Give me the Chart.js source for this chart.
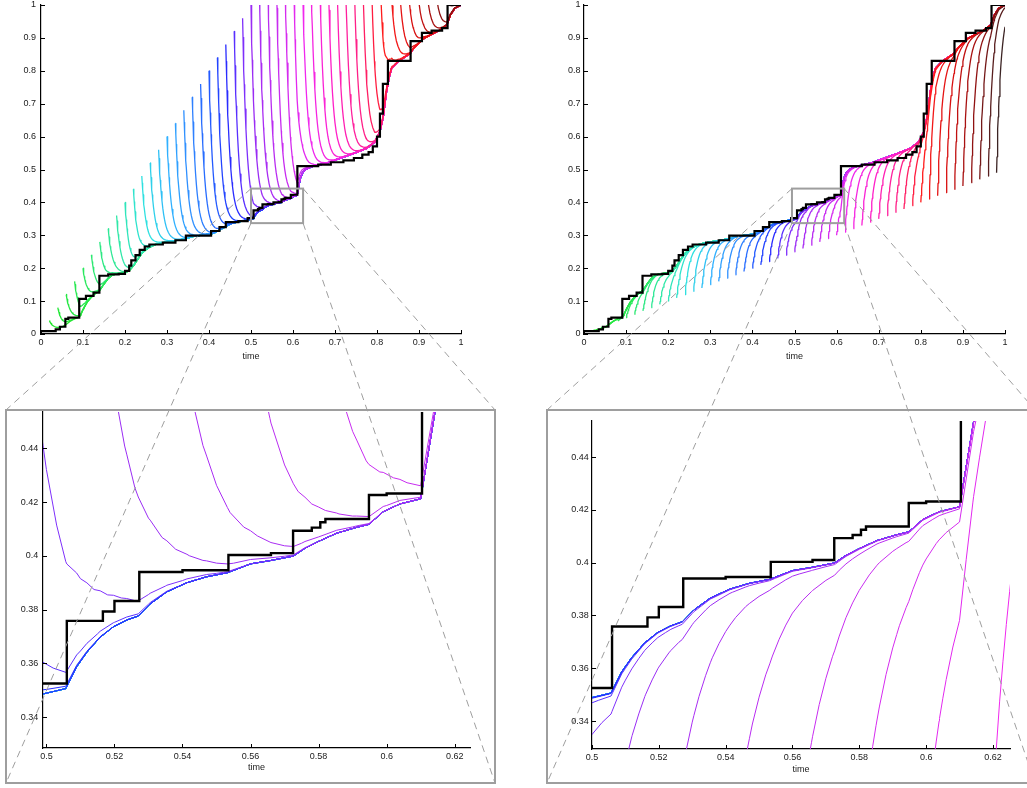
<!DOCTYPE html>
<html>
<head>
<meta charset="utf-8">
<title>Forward and backward filtering curves</title>
<script src="https://cdn.jsdelivr.net/npm/chart.js@4.4.1/dist/chart.umd.min.js"></script>
<style>
  html, body { margin:0; padding:0; background:#fff; width:1027px; height:788px; overflow:hidden; }
  canvas { position:absolute; }
</style>
</head>
<body>
<canvas id="cTL" width="490" height="372" style="left:0px;top:0px"></canvas>
<canvas id="cTR" width="490" height="372" style="left:543px;top:0px"></canvas>
<canvas id="cBL" width="489" height="373" style="left:6px;top:410px"></canvas>
<canvas id="cBR" width="488" height="373" style="left:547px;top:410px"></canvas>
<canvas id="ov" width="1040" height="788" style="left:0px;top:0px;pointer-events:none"></canvas>
<script>
// ---------------- data ----------------
// start times of the coloured curves
const CURVE_T = [0.02,0.04,0.06,0.08,0.10,0.12,0.14,0.16,0.18,0.20,0.22,0.24,0.26,0.28,0.30,0.32,0.34,0.36,0.38,0.40,
  0.42,0.44,0.46,0.48,0.50,0.52,0.54,0.56,0.58,0.60,0.62,0.64,0.66,0.68,0.70,0.72,0.74,0.76,0.78,0.80,
  0.82,0.84,0.86,0.88,0.90,0.92,0.94,0.96,0.98];
// left panel: value at which each curve starts (above the limit curve)
const FWD_START = [0.04,0.08,0.12,0.16,0.20,0.24,0.28,0.32,0.36,0.40,0.44,0.48,0.52,0.56,0.60,0.64,0.68,0.72,0.76,0.80,
  0.84,0.88,0.92,0.96,1.00,1.04,1.08,1.12,1.16,1.20,1.24,1.28,1.32,1.36,1.40,1.44,1.48,1.52,1.56,1.60,
  1.64,1.68,1.72,1.76,1.80,1.84,1.88,1.92,1.96];
// right panel: value at which each curve starts (below the limit curve)
const BWD_START = [0.01,0.02,0.03,0.04,0.05,0.06,0.07,0.08,0.09,0.10,0.11,0.12,0.13,0.14,0.15,0.16,0.17,0.18,0.19,0.20,
  0.21,0.22,0.23,0.24,0.25,0.26,0.27,0.28,0.29,0.30,0.31,0.32,0.33,0.34,0.35,0.36,0.37,0.38,0.39,0.40,
  0.41,0.42,0.43,0.44,0.45,0.46,0.47,0.48,0.49];
// black step function
const STEP_T = [0,0.035,0.045,0.058,0.065,0.091,0.107,0.125,0.139,0.160,0.185,0.200,0.210,0.215,0.225,0.235,0.247,0.258,0.290,0.320,
  0.345,0.405,0.425,0.440,0.470,0.492,0.5060,0.5166,0.5200,0.5273,0.5400,0.5535,0.5660,0.5725,0.5780,0.5805,0.5820,0.5948,0.6000,0.6104,
  0.660,0.690,0.720,0.745,0.765,0.780,0.790,0.800,0.807,0.814,0.826,0.880,0.907,0.930,0.955,0.968,1.000];
const STEP_V = [0.009,0.014,0.022,0.046,0.050,0.107,0.116,0.126,0.177,0.181,0.183,0.192,0.208,0.224,0.240,0.256,0.266,0.272,0.278,0.285,
  0.299,0.313,0.325,0.340,0.343,0.3525,0.3758,0.3793,0.3832,0.3940,0.3946,0.4003,0.4010,0.4093,0.4105,0.4125,0.4137,0.4226,0.4232,0.5100,
  0.515,0.522,0.528,0.535,0.545,0.553,0.570,0.600,0.670,0.760,0.830,0.890,0.915,0.922,0.930,1.000,1.000];
// limit curve onto which the coloured curves settle
const ENV_T = [0.000,0.020,0.040,0.050,0.060,0.070,0.080,0.090,0.094,0.100,0.110,0.120,0.130,0.140,0.150,0.160,0.170,0.180,0.200,0.210,
  0.220,0.230,0.240,0.250,0.260,0.270,0.280,0.300,0.320,0.345,0.360,0.380,0.405,0.415,0.425,0.435,0.445,0.455,0.470,0.485,
  0.4990,0.5057,0.5089,0.5119,0.5158,0.5197,0.5236,0.5270,0.5305,0.5354,0.5413,0.5471,0.5532,0.5600,0.5657,0.5726,0.5760,0.5799,0.5853,0.5912,
  0.5948,0.5990,0.6039,0.6100,0.6142,0.6180,0.6220,0.6260,0.6300,0.6450,0.6800,0.7100,0.7450,0.7750,0.7950,0.8070,0.8150,0.8230,0.8300,0.8350,
  0.8500,0.8790,0.8870,0.9110,0.9500,0.9660,0.9750,0.9850,1.0000];
const ENV_V = [0.008,0.011,0.016,0.020,0.029,0.039,0.046,0.051,0.056,0.074,0.097,0.112,0.124,0.133,0.152,0.169,0.179,0.183,0.186,0.193,
  0.207,0.227,0.245,0.257,0.265,0.271,0.275,0.280,0.284,0.290,0.296,0.300,0.304,0.309,0.316,0.323,0.331,0.336,0.341,0.345,
  0.3486,0.3506,0.3587,0.3641,0.3697,0.3736,0.3761,0.3776,0.3821,0.3866,0.3900,0.3922,0.3937,0.3970,0.3982,0.3999,0.4028,0.4053,0.4084,0.4106,
  0.4117,0.4164,0.4193,0.4212,0.4534,0.4750,0.4880,0.4950,0.5000,0.5090,0.5190,0.5330,0.5490,0.5640,0.5840,0.6150,0.6610,0.7400,0.7850,0.8080,
  0.8280,0.8530,0.8680,0.8980,0.9240,0.9390,0.9700,0.9900,1.0000];
// remaining share of the initial gap after a given time (measured on the zoomed panels)
const DECAY_DT   = [0,0.001,0.002,0.003,0.004,0.005,0.006,0.008,0.010,0.012,0.014,0.016,0.018,0.020,0.023,0.026,0.030,0.034,0.038,0.042,0.046,0.050,0.055,0.060,0.070,0.080];
const DECAY_FRAC = [1,0.905,0.819,0.741,0.670,0.607,0.549,0.449,0.368,0.301,0.247,0.202,0.165,0.135,0.100,0.074,0.050,0.033,0.022,0.015,0.010,0.0067,0.0041,0.0025,0.0009,0];

const TOP_TICKS  = [0,0.1,0.2,0.3,0.4,0.5,0.6,0.7,0.8,0.9,1];
const TOP_LABELS = ['0','0.1','0.2','0.3','0.4','0.5','0.6','0.7','0.8','0.9','1'];
const ZOOM_X_TICKS  = [0.5,0.52,0.54,0.56,0.58,0.6,0.62];
const ZOOM_X_LABELS = ['0.5','0.52','0.54','0.56','0.58','0.6','0.62'];
const ZOOM_Y_TICKS  = [0.34,0.36,0.38,0.4,0.42,0.44];
const ZOOM_Y_LABELS = ['0.34','0.36','0.38','0.4','0.42','0.44'];

// axis ranges
const ZOOM_L_X = [0.499, 0.6245], ZOOM_L_Y = [0.3285, 0.4535];
const ZOOM_R_X = [0.500, 0.6251], ZOOM_R_Y = [0.3294, 0.4537];
// zoom rectangles drawn on the top panels
const RECT_L_X = [0.500, 0.624], RECT_R_X = [0.494, 0.618], RECT_Y = [0.337, 0.442];

// ---------------- colour map (style) ----------------
const CMAP_T = [0.00,0.10,0.18,0.24,0.30,0.36,0.41,0.44,0.47,0.50,0.56,0.62,0.68,0.74,0.80,0.86,0.92,0.98,1.00];
const CMAP_C = ['#1ee61e','#2ae85e','#30e8a8','#2ee0e0','#30b0ff','#2e80ff','#2050ff','#2a2cff','#7030ff','#9a2cf4',
  '#c82cf0','#f028ee','#ff20c8','#ff2088','#ff1c1c','#d81010','#901212','#3c2424','#302020'];
function hex(c){ return [parseInt(c.slice(1,3),16), parseInt(c.slice(3,5),16), parseInt(c.slice(5,7),16)]; }
function cmap(t){
  let i = 1; while (i < CMAP_T.length - 1 && CMAP_T[i] < t) i++;
  const f = Math.max(0, Math.min(1, (t - CMAP_T[i-1]) / (CMAP_T[i] - CMAP_T[i-1])));
  const a = hex(CMAP_C[i-1]), b = hex(CMAP_C[i]);
  return 'rgb(' + a.map((v, j) => Math.round(v + f * (b[j] - v))).join(',') + ')';
}

// ---------------- build series from the arrays ----------------
function lookup(xs, ys, x){
  if (x <= xs[0]) return ys[0];
  const n = xs.length;
  if (x >= xs[n-1]) return ys[n-1];
  let i = 1; while (xs[i] < x) i++;
  const f = (x - xs[i-1]) / (xs[i] - xs[i-1]);
  return ys[i-1] + f * (ys[i] - ys[i-1]);
}
function buildCurve(t0, v0){
  const gap = v0 - lookup(ENV_T, ENV_V, t0);
  const lastDt = DECAY_DT[DECAY_DT.length - 1];
  const xs = DECAY_DT.map(d => t0 + d).concat(ENV_T.filter(t => t > t0)).sort((a, b) => a - b);
  const pts = []; let prev = -1;
  for (const x of xs) {
    if (x - prev < 1e-7) continue;
    if (x > 1.0000001) break;
    prev = x;
    const d = x - t0;
    const f = d >= lastDt ? 0 : lookup(DECAY_DT, DECAY_FRAC, d);
    pts.push({x: x, y: lookup(ENV_T, ENV_V, x) + gap * f});
  }
  return pts;
}
function datasets(starts, lw, blackW){
  const ds = [{
    data: STEP_T.map((t, i) => ({x: t, y: STEP_V[i]})),
    stepped: true, borderColor: '#000', borderWidth: blackW, order: -1, pointRadius: 0, fill: false
  }];
  CURVE_T.forEach((t0, k) => {
    ds.push({
      data: buildCurve(t0, starts[k]),
      borderColor: cmap(t0), borderWidth: lw, order: 1000 - k, clip: 0,
      pointRadius: 0, fill: false, tension: 0, borderJoinStyle: 'round'
    });
  });
  return ds;
}

// ---------------- chart helpers ----------------
Chart.defaults.font.family = "'Liberation Sans', Arial, Helvetica, sans-serif";
Chart.defaults.font.size = 9;
Chart.defaults.color = '#1a1a1a';

const inwardTicks = {
  id: 'inwardTicks',
  afterDraw(chart){
    const {ctx, chartArea: a, scales: {x, y}} = chart;
    ctx.save(); ctx.strokeStyle = '#000'; ctx.lineWidth = 1; ctx.beginPath();
    x.ticks.forEach(t => { const px = Math.round(x.getPixelForValue(t.value)) + 0.5; ctx.moveTo(px, a.bottom); ctx.lineTo(px, a.bottom - 4); });
    y.ticks.forEach(t => { const py = Math.round(y.getPixelForValue(t.value)) + 0.5; ctx.moveTo(a.left, py); ctx.lineTo(a.left + 4, py); });
    ctx.stroke(); ctx.restore();
  }
};
function zeroPad(s){ s.paddingLeft = 0; s.paddingRight = 0; s.paddingTop = 0; s.paddingBottom = 0; }

function makeChart(id, ds, c){
  return new Chart(document.getElementById(id), {
    type: 'line',
    data: {datasets: ds},
    plugins: [inwardTicks],
    options: {
      responsive: false, animation: false, events: [],
      layout: {padding: {left: 0, top: c.padTop, right: c.padRight, bottom: 0}},
      plugins: {legend: {display: false}, tooltip: {enabled: false}},
      elements: {point: {radius: 0}},
      scales: {
        x: {
          type: 'linear', min: c.xr[0], max: c.xr[1],
          afterBuildTicks: s => { s.ticks = c.xt.map(v => ({value: v})); },
          ticks: {callback: (v, i) => c.xl[i], padding: 3.6, maxRotation: 0, autoSkip: false},
          grid: {display: false, drawTicks: false},
          border: {display: true, color: '#000', width: 1.2},
          title: {display: true, text: 'time', color: '#1a1a1a', padding: {top: 0, bottom: c.titlePad}},
          afterFit: s => { s.height = c.xH; zeroPad(s); }
        },
        y: {
          type: 'linear', min: c.yr[0], max: c.yr[1],
          afterBuildTicks: s => { s.ticks = c.yt.map(v => ({value: v})); },
          ticks: {callback: (v, i) => c.yl[i], padding: c.yPad, autoSkip: false},
          grid: {display: false, drawTicks: false},
          border: {display: true, color: '#000', width: 1.2},
          afterFit: s => { s.width = c.yW; zeroPad(s); }
        }
      }
    }
  });
}

const chTL = makeChart('cTL', datasets(FWD_START, 1.3, 2.2), {
  xr: [0, 1], yr: [0, 1], xt: TOP_TICKS, xl: TOP_LABELS, yt: TOP_TICKS, yl: TOP_LABELS,
  padTop: 5, padRight: 29, xH: 38, yW: 41, titlePad: 10.5, yPad: 5
});
const chTR = makeChart('cTR', datasets(BWD_START, 1.3, 2.2), {
  xr: [0, 1], yr: [0, 1], xt: TOP_TICKS, xl: TOP_LABELS, yt: TOP_TICKS, yl: TOP_LABELS,
  padTop: 5, padRight: 28, xH: 38, yW: 41, titlePad: 10.5, yPad: 3.6
});
const chBL = makeChart('cBL', datasets(FWD_START, 1.0, 2.4), {
  xr: ZOOM_L_X, yr: ZOOM_L_Y, xt: ZOOM_X_TICKS, xl: ZOOM_X_LABELS, yt: ZOOM_Y_TICKS, yl: ZOOM_Y_LABELS,
  padTop: 2, padRight: 25, xH: 35, yW: 37, titlePad: 9.6, yPad: 4.7
});
const chBR = makeChart('cBR', datasets(BWD_START, 1.0, 2.4), {
  xr: ZOOM_R_X, yr: ZOOM_R_Y, xt: ZOOM_X_TICKS, xl: ZOOM_X_LABELS, yt: ZOOM_Y_TICKS, yl: ZOOM_Y_LABELS,
  padTop: 11, padRight: 25, xH: 34, yW: 45, titlePad: 7.6, yPad: 3.3
});

// ---------------- zoom rectangles, frames and dashed connectors ----------------
(function drawOverlay(){
  const ctx = document.getElementById('ov').getContext('2d');
  ctx.strokeStyle = '#9e9e9e';
  [[chTL, RECT_L_X, document.getElementById('cBL')], [chTR, RECT_R_X, document.getElementById('cBR')]].forEach(([ch, rx, box]) => {
    const ox = ch.canvas.offsetLeft, oy = ch.canvas.offsetTop;
    const x0 = ox + ch.scales.x.getPixelForValue(rx[0]);
    const x1 = ox + ch.scales.x.getPixelForValue(rx[1]);
    const y0 = oy + ch.scales.y.getPixelForValue(RECT_Y[1]);
    const y1 = oy + ch.scales.y.getPixelForValue(RECT_Y[0]);
    const bx0 = box.offsetLeft, by0 = box.offsetTop, bx1 = bx0 + box.width, by1 = by0 + box.height;
    ctx.setLineDash([]); ctx.lineWidth = 2;
    ctx.strokeRect(x0, y0, x1 - x0, y1 - y0);
    ctx.strokeRect(bx0, by0, bx1 - bx0, by1 - by0);
    ctx.setLineDash([7, 5]); ctx.lineWidth = 1;
    ctx.beginPath();
    ctx.moveTo(x0, y0); ctx.lineTo(bx0, by0);
    ctx.moveTo(x0, y1); ctx.lineTo(bx0, by1);
    ctx.moveTo(x1, y0); ctx.lineTo(bx1, by0);
    ctx.moveTo(x1, y1); ctx.lineTo(bx1, by1);
    ctx.stroke();
  });
})();
</script>
</body>
</html>
